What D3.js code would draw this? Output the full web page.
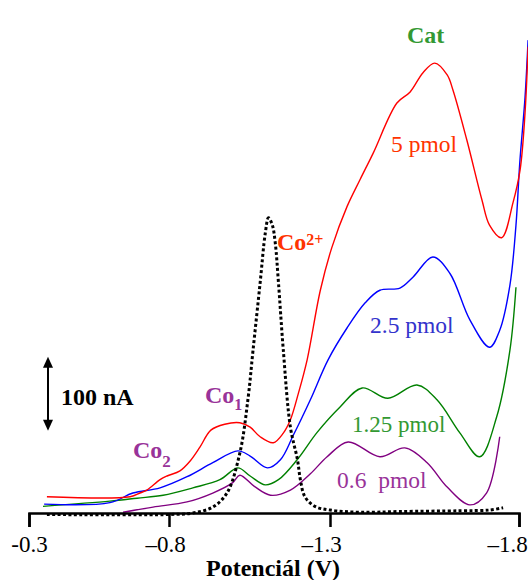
<!DOCTYPE html>
<html>
<head>
<meta charset="utf-8">
<script src="https://cdn.jsdelivr.net/npm/d3@7"></script>
<style>
body { margin: 0; background: #fff; }
svg { display: block; font-family: "Liberation Serif", "Times New Roman", serif; }
</style>
</head>
<body>
<svg width="528" height="580"></svg>
<script>
// tick labels of the potential axis
var tickValues = [-0.3, -0.8, -1.3, -1.8];
var tickLabels = ["-0.3", "\u20130.8", "\u20131.3", "\u20131.8"];

// 5 pmol
var potRed = [-0.364,-0.661,-0.696,-0.721,-0.768,-0.793,-0.834,-0.865,-0.896,-0.930,-0.973,-1.020,-1.052,-1.083,-1.124,-1.155,-1.177,-1.202,-1.229,-1.270,-1.305,-1.345,-1.379,-1.414,-1.477,-1.512,-1.546,-1.577,-1.610,-1.625,-1.662,-1.702,-1.722,-1.754,-1.784,-1.803,-1.816,-1.824];
var curRed = [22,22,27,31,45,50,57,70,89,112,120,122,116,103,95,108,126,162,207,301,359,414,450,486,554,569,595,608,592,572,504,423,389,372,419,464,541,630];

// 2.5 pmol
var potBlue = [-0.354,-0.589,-0.671,-0.768,-0.856,-0.936,-1.014,-1.052,-1.106,-1.146,-1.186,-1.239,-1.294,-1.345,-1.393,-1.432,-1.485,-1.520,-1.572,-1.617,-1.670,-1.722,-1.749,-1.776,-1.792,-1.802,-1.816,-1.824];
var curBlue = [12,14,27,34,49,68,84,77,61,72,105,153,207,250,284,301,304,319,346,324,261,224,247,308,389,473,562,639];

// 1.25 pmol
var potGreen = [-0.350,-0.589,-0.686,-0.779,-0.874,-0.958,-1.014,-1.052,-1.099,-1.140,-1.198,-1.260,-1.326,-1.385,-1.453,-1.530,-1.583,-1.644,-1.696,-1.741,-1.776,-1.792];
var curGreen = [9,16,20,24,34,45,61,50,38,45,72,109,143,169,155,173,153,108,76,130,220,305];

// 0.6 pmol
var potPurple = [-0.636,-0.743,-0.856,-0.936,-0.998,-1.020,-1.065,-1.115,-1.177,-1.239,-1.291,-1.348,-1.432,-1.498,-1.557,-1.610,-1.670,-1.714,-1.749];
var curPurple = [1,8,15,27,41,51,36,24,31,53,76,96,76,88,68,35,11,27,103];

// Co2+ (dotted)
var potCo = [-0.364,-0.803,-0.874,-0.936,-0.980,-1.020,-1.045,-1.061,-1.083,-1.099,-1.109,-1.121,-1.130,-1.140,-1.155,-1.177,-1.199,-1.208,-1.222,-1.253,-1.300,-1.379,-1.485,-1.644,-1.722,-1.758];
var curCo = [-2,-2,0,8,27,81,153,220,311,378,399,389,365,311,220,116,72,45,22,9,4,1,2,3,4,7];

// scale bar (nA)
var scaleBarValue = 100;
var scaleBarBase = 111;

var svg = d3.select("svg");

// the tick marks of the original are not evenly spaced
var x = d3.scaleLinear().domain(tickValues).range([29, 169, 330, 519]);
var y = d3.scaleLinear().domain([0, 100]).range([513, 439]);

var line = d3.line()
	.x(function(d){ return x(d[0]) })
	.y(function(d){ return y(d[1]) })
	.curve(d3.curveCatmullRom.alpha(0.5));

var series = [
	{pot: potPurple, cur: curPurple, color: "#800080"},
	{pot: potGreen, cur: curGreen, color: "#008000"},
	{pot: potBlue, cur: curBlue, color: "#0000ff"},
	{pot: potRed, cur: curRed, color: "#ff0000"}
];

svg.append("g")
	.selectAll("path")
	.data(series)
	.enter().append("path")
	.attr("fill", "none")
	.attr("stroke", function(d){ return d.color })
	.attr("stroke-width", 1.4)
	.attr("d", function(d){ return line(d3.zip(d.pot, d.cur)) });

// dotted Co2+ curve
svg.append("path")
	.attr("fill", "none")
	.attr("stroke", "#000")
	.attr("stroke-width", 3)
	.style("stroke-dasharray", "3, 2.4")
	.attr("d", line(d3.zip(potCo, curCo)));

// axis
var labelShift = [0, -4, -9, -12];
var axis = svg.append("g")
	.attr("transform", "translate(0," + y(0) + ")")
	.call(d3.axisBottom(x)
		.tickValues(tickValues)
		.tickSize(14)
		.tickSizeOuter(14)
		.tickPadding(9)
		.tickFormat(function(d, i){ return tickLabels[i] }));
axis.select(".domain").attr("stroke", "#000").attr("stroke-width", 2.5);
axis.selectAll(".tick line").attr("stroke", "#000").attr("stroke-width", 2.5);
axis.selectAll(".tick text")
	.attr("fill", "#000")
	.attr("font-family", "Liberation Serif")
	.attr("font-size", 23)
	.attr("dx", function(d, i){ return labelShift[i] });

svg.append("text")
	.attr("x", 273)
	.attr("y", 576)
	.attr("text-anchor", "middle")
	.attr("font-weight", "bold")
	.attr("font-size", 24)
	.text("Potenciál (V)");

// scale bar with arrows
var barX = 48;
var yTop = y(scaleBarBase + scaleBarValue);
var yBot = y(scaleBarBase);
svg.append("line")
	.attr("x1", barX).attr("x2", barX)
	.attr("y1", yTop + 8).attr("y2", yBot - 8)
	.attr("stroke", "#000")
	.attr("stroke-width", 2);
svg.append("path")
	.attr("d", "M" + barX + "," + yTop + "l-5,11h10z")
	.attr("fill", "#000");
svg.append("path")
	.attr("d", "M" + barX + "," + yBot + "l-5,-11h10z")
	.attr("fill", "#000");
svg.append("text")
	.attr("x", 61)
	.attr("y", 405)
	.attr("font-weight", "bold")
	.attr("font-size", 24)
	.text(scaleBarValue + " nA");

// labels
function label(txt, xx, yy, color, bold, size){
	return svg.append("text")
		.attr("x", xx)
		.attr("y", yy)
		.attr("fill", color)
		.attr("font-weight", bold ? "bold" : "normal")
		.attr("font-size", size)
		.style("white-space", "pre")
		.text(txt);
}

label("Cat", 407, 43, "#339933", true, 24);
label("5 pmol", 391, 152, "#ff3300", false, 23.5);
label("2.5 pmol", 370, 333, "#3333cc", false, 23.5);
label("1.25 pmol", 352, 432, "#339933", false, 23);
label("0.6  pmol", 337, 488, "#993399", false, 23.5);

var co1 = label("Co", 205, 403, "#993399", true, 24);
co1.append("tspan").attr("font-size", 16).attr("dy", 7).text("1");

var co2 = label("Co", 133, 458, "#993399", true, 24);
co2.append("tspan").attr("font-size", 17).attr("dy", 9).text("2");

var coIon = label("Co", 277, 250, "#ff3300", true, 24);
coIon.append("tspan").attr("font-size", 16).attr("dy", -5).text("2+");
</script>
</body>
</html>
